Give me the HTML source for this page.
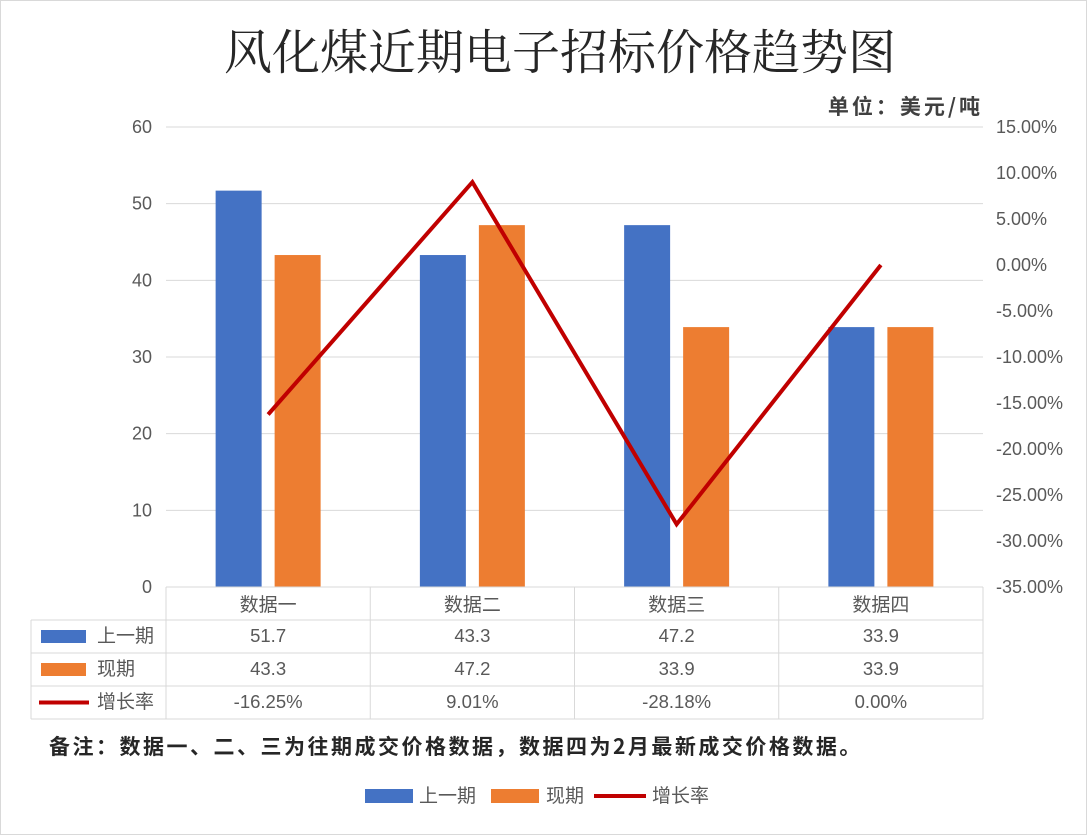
<!DOCTYPE html>
<html><head><meta charset="utf-8"><style>
body{margin:0;background:#fff;font-family:"Liberation Sans","Noto Sans CJK SC",sans-serif;}
#wrap{position:relative;width:1085px;height:833px;border:1px solid #d9d9d9;overflow:hidden;}
</style></head><body>
<div id="wrap">
<svg id="chart" width="1085" height="833" xmlns="http://www.w3.org/2000/svg"></svg>
</div>
<script>
const categories=["数据一","数据二","数据三","数据四"];
const prevValues=[51.7,43.3,47.2,33.9];
const curValues=[43.3,47.2,33.9,33.9];
const growthValues=[-16.25,9.01,-28.18,0.00];
const growthLabels=["-16.25%","9.01%","-28.18%","0.00%"];
const leftTicks=[0,10,20,30,40,50,60];
const rightTicks=[15,10,5,0,-5,-10,-15,-20,-25,-30,-35];

const NS="http://www.w3.org/2000/svg";
const svg=document.getElementById('chart');
function mk(tag,attrs,text){const e=document.createElementNS(NS,tag);for(const k in attrs)e.setAttribute(k,attrs[k]);if(text!==undefined)e.textContent=text;svg.appendChild(e);return e;}
const X0=165,X1=982,Y0=586,Y1=126;
const cw=(X1-X0)/categories.length;
const yL=v=>Y0-(v/60)*(Y0-Y1);
const yR=v=>Y1+(15-v)/50*(Y0-Y1);
const cx=i=>X0+cw*(i+0.5);

let t=mk('text',{x:559,y:68,'text-anchor':'middle','font-size':48,fill:'#262626','font-family':'"Noto Serif CJK SC",serif'},'风化煤近期电子招标价格趋势图');

t=mk('text',{x:982,y:113,'text-anchor':'end','font-size':21,'font-weight':'bold','letter-spacing':3,fill:'#404040','font-family':'"Noto Sans CJK SC",sans-serif'},'单位：美元/吨');


leftTicks.forEach(v=>{
  if(v>0){const g=mk('line',{x1:X0,x2:X1,y1:yL(v),y2:yL(v),stroke:'#d9d9d9','stroke-width':1});}
  const l=mk('text',{x:151,y:yL(v)+6,'text-anchor':'end','font-size':18,fill:'#595959'},String(v));
  
});
rightTicks.forEach(v=>{
  const s=(v<0?'-':'')+Math.abs(v).toFixed(2)+'%';
  const l=mk('text',{x:995,y:yR(v)+6,'font-size':18,fill:'#595959'},s);
  
});

const bw=46,gap=13;
categories.forEach((c,i)=>{
  const b1=mk('rect',{x:cx(i)-gap/2-bw,y:yL(prevValues[i]),width:bw,height:Y0-yL(prevValues[i]),fill:'#4472c4'});
  
  const b2=mk('rect',{x:cx(i)+gap/2,y:yL(curValues[i]),width:bw,height:Y0-yL(curValues[i]),fill:'#ed7d31'});
  
});
const pl=mk('polyline',{points:growthValues.map((v,i)=>cx(i)+','+yR(v)).join(' '),fill:'none',stroke:'#c00000','stroke-width':4,'stroke-linejoin':'miter'});


const rows=[586,619,652,685,718];
const TL=30;
rows.forEach((y,k)=>{const l=mk('line',{x1:k==0?X0:TL,x2:X1,y1:y,y2:y,stroke:'#d9d9d9','stroke-width':1});});
for(let i=0;i<=4;i++){const x=X0+cw*i;const l=mk('line',{x1:x,x2:x,y1:586,y2:718,stroke:'#d9d9d9','stroke-width':1});}
let l0=mk('line',{x1:TL,x2:TL,y1:619,y2:718,stroke:'#d9d9d9','stroke-width':1});
categories.forEach((c,i)=>{const e=mk('text',{x:cx(i),y:610,'text-anchor':'middle','font-size':19,fill:'#595959'},c);});
const tableRows=[{name:'上一期',vals:prevValues.map(v=>v.toFixed(1))},{name:'现期',vals:curValues.map(v=>v.toFixed(1))},{name:'增长率',vals:growthLabels}];
tableRows.forEach((r,k)=>{
  const y=rows[k+1]+23;
  let key;
  if(k<2){key=mk('rect',{x:40,y:rows[k+1]+10,width:45,height:13,fill:k==0?'#4472c4':'#ed7d31'});}
  else{key=mk('line',{x1:38,x2:88,y1:rows[k+1]+16.5,y2:rows[k+1]+16.5,stroke:'#c00000','stroke-width':4});}
  
  const n=mk('text',{x:96,y:y-1,'font-size':19,fill:'#595959'},r.name);
  r.vals.forEach((v,i)=>{const e=mk('text',{x:cx(i),y:y-1,'text-anchor':'middle','font-size':18.5,fill:'#595959'},v);});
});

t=mk('text',{x:48,y:753,'font-size':21,'font-weight':'bold','letter-spacing':2.5,fill:'#262626','font-family':'"Noto Sans CJK SC",sans-serif'},'备注：数据一、二、三为往期成交价格数据，数据四为2月最新成交价格数据。');


let r=mk('rect',{x:364,y:788,width:48,height:14,fill:'#4472c4'});
t=mk('text',{x:418,y:801,'font-size':19,fill:'#595959'},'上一期');
r=mk('rect',{x:490,y:788,width:48,height:14,fill:'#ed7d31'});
t=mk('text',{x:545,y:801,'font-size':19,fill:'#595959'},'现期');
r=mk('line',{x1:593,x2:645,y1:795,y2:795,stroke:'#c00000','stroke-width':4});
t=mk('text',{x:651,y:801,'font-size':19,fill:'#595959'},'增长率');
</script>
</body></html>
